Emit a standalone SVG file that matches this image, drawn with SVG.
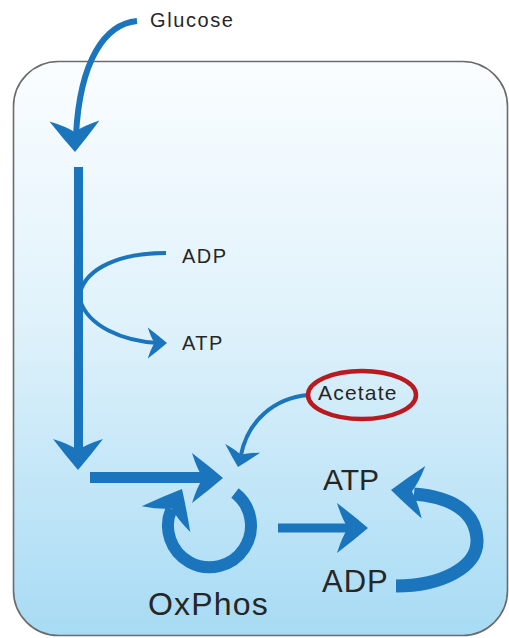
<svg xmlns="http://www.w3.org/2000/svg" width="509" height="638" viewBox="0 0 509 638">
  <style>
    .ln{fill:none;stroke:#1b75bc;stroke-linecap:butt}
    .ah{fill:#1b75bc}
    .t{font-family:"Liberation Sans",Arial,sans-serif;fill:#262626}
  </style>
  <defs>
    <linearGradient id="bg" x1="0" y1="0" x2="0" y2="1">
      <stop offset="0" stop-color="#fafdff"/>
      <stop offset="0.45" stop-color="#e0f2fb"/>
      <stop offset="1" stop-color="#a7dbf4"/>
    </linearGradient>
    <path id="head" d="M0,0 Q-14,-12 -31,-25 Q-26,-9 -20,0 Q-26,9 -31,25 Q-14,12 0,0 Z"/>
  </defs>

  <g id="cell">
    <rect x="13.5" y="61.5" width="494" height="574" rx="45" ry="45" fill="url(#bg)" stroke="#6b6b6b" stroke-width="1.6"/>
  </g>

  <g id="connectors">
    <!-- glucose in -->
    <path class="ln" d="M137,21 C105,24 80,60 76,135" stroke-width="6"/>
    <use href="#head" class="ah" transform="translate(75,152) rotate(89)"/>
    <!-- glycolysis trunk -->
    <path class="ln" d="M78.5,167 L78.5,452" stroke-width="9"/>
    <use href="#head" class="ah" transform="translate(78,470) rotate(90)"/>
    <!-- ADP in / ATP out -->
    <path class="ln" d="M166,253 C120,253 86,268 80,293" stroke-width="4"/>
    <path class="ln" d="M80,300 C88,326 122,341 158,343" stroke-width="4"/>
    <use href="#head" class="ah" transform="translate(167,343) scale(0.62)"/>
    <!-- into TCA -->
    <path class="ln" d="M90,477.5 L208,477.5" stroke-width="11"/>
    <use href="#head" class="ah" transform="translate(223,478)"/>
    <!-- acetate in -->
    <path class="ln" d="M308,395 C275,398 248,420 241,455" stroke-width="4"/>
    <use href="#head" class="ah" transform="translate(238,467) rotate(104) scale(0.62,0.72)"/>
    <!-- TCA cycle ring -->
    <path class="ln" d="M235,493 A41.5,41.5 0 1 1 171.5,509" stroke-width="12"/>
    <use href="#head" class="ah" transform="translate(182,489) rotate(-62) scale(1.1)"/>
    <!-- to ATP synthesis -->
    <path class="ln" d="M278,528 L352,528" stroke-width="9"/>
    <use href="#head" class="ah" transform="translate(368,528)"/>
    <!-- ADP to ATP recycle -->
    <path class="ln" d="M396,586 C440,586 478,568 477,540 C476,512 452,497 414,494" stroke-width="13"/>
    <use href="#head" class="ah" transform="translate(391,490) rotate(184) scale(1.05)"/>
  </g>

  <g id="glucose"><text class="t" x="150" y="27" font-size="20" letter-spacing="1.6">Glucose</text></g>
  <g id="adp-small"><text class="t" x="182" y="263" font-size="20" letter-spacing="1.5">ADP</text></g>
  <g id="atp-small"><text class="t" x="182" y="350" font-size="20" letter-spacing="1.5">ATP</text></g>
  <g id="acetate">
    <ellipse cx="362" cy="395" rx="54" ry="24" fill="none" stroke="#b81a1f" stroke-width="4.5"/>
    <text class="t" x="318" y="400" font-size="21" letter-spacing="1.2">Acetate</text>
  </g>
  <g id="atp-big"><text class="t" x="323" y="490" font-size="30">ATP</text></g>
  <g id="adp-big"><text class="t" x="322" y="592" font-size="31" letter-spacing="1">ADP</text></g>
  <g id="oxphos"><text class="t" x="148" y="615" font-size="32" letter-spacing="1.2">OxPhos</text></g>
</svg>
